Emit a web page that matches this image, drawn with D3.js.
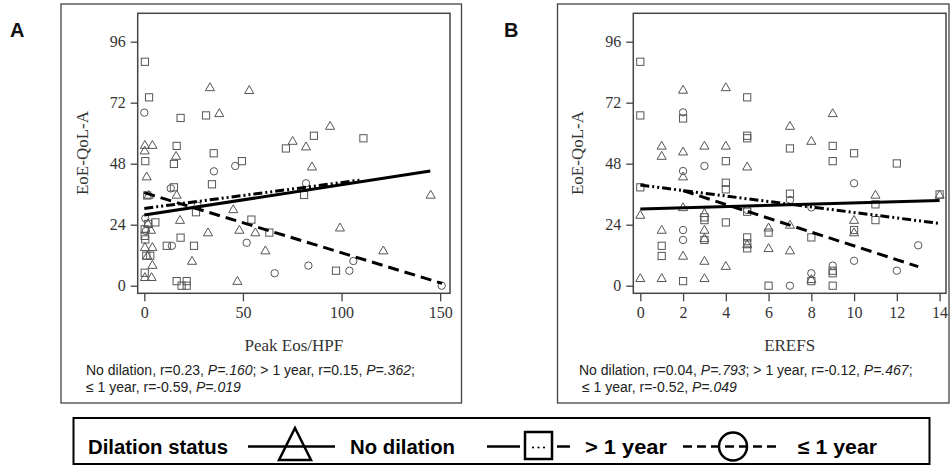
<!DOCTYPE html>
<html><head><meta charset="utf-8">
<script src="https://cdn.jsdelivr.net/npm/d3@7/dist/d3.min.js"></script>
<style>body{margin:0;background:#fff}svg{display:block}</style>
</head><body><svg id="c" width="950" height="468"></svg>
<script>
// ---------- DATA ----------
const yTicks = [0, 24, 48, 72, 96];
const xTicksA = [0, 50, 100, 150];
const xTicksB = [0, 2, 4, 6, 8, 10, 12, 14];

// Panel A: Peak Eos/HPF vs EoE-QoL-A
const triA = [[33.3,78],[53.2,76.9],[38,67.8],[94.2,62.8],[75.2,56.9],[82,54.7],[85,46.8],[145.2,35.7],[45.1,30],[99.2,22.8],[48.2,21.9],[56.3,20.9],[32.3,20.9],[61.4,13.8],[121.2,13.8],[24.2,9.7],[47.2,1.8],[16.1,51],[16.4,35.7],[18.1,25.8],[0.3,55.3],[4.1,55.3],[0.2,53.1],[1.2,42.9],[2.2,35.7],[3.4,21.9],[0.3,15.1],[4.1,15.1],[1.5,11.7],[4.1,8.1],[0.3,3.3],[3.7,3.3],[1.8,24.5]];
const sqA = [[0.3,88.1],[2.4,74.1],[18.4,66],[31.3,67],[86,59],[111.1,58],[71.8,54],[16.4,55],[35.2,52.1],[0.5,49],[15,47.9],[49.5,49],[34.3,39.9],[15,38.7],[81,35.7],[1.5,35.5],[26.2,28.9],[54.3,26],[63.4,20.9],[5.6,24.9],[11.4,15.7],[25.2,15.7],[18.4,18.9],[97.2,5.9],[16.4,1.8],[21.5,1.8],[18.9,0],[21.5,0],[2,24.3],[0.2,22.2],[0.2,19.6],[0.5,18.2],[1,11.8],[3,11.8],[0.2,5.1]];
const cirA = [[0,68.1],[46.1,47.1],[35.3,45],[82,40.3],[51.9,16.9],[83.2,7.9],[66.1,4.9],[104,5.9],[106,9.7],[150.8,0],[13.4,38.3],[0.5,26.5],[14,15.7],[0.8,21.5],[27,31.5]];

// Panel B: EREFS vs EoE-QoL-A
const triB = [[0,27.8],[0,2.9],[1,55],[1,51],[1,21.9],[1,2.9],[2,77],[2,52.7],[2,42.9],[2,30.8],[2,11.7],[3,55],[3,21.9],[3,18.6],[3,28.5],[3,9.7],[3,2.9],[4,78],[4,55],[4,7.7],[5,46.8],[5,16.2],[6,22.8],[6,14.7],[7,62.8],[7,23.9],[7,13.8],[8,56.9],[8,2.5],[9,67.8],[10,25.8],[10,20.9],[11,35.7],[14,35.7]];
const sqB = [[0,88.1],[0,67],[0,38.7],[1,15.7],[1,11.7],[2,65.8],[2,1.8],[3,26.9],[3,25.8],[3,18],[4,49],[4,40.5],[4,37.9],[4,24.9],[5,74.1],[5,59],[5,58],[5,19],[5,16.7],[5,14.7],[5,29.1],[6,20.9],[6,0],[7,54],[7,36.2],[8,19],[8,1.8],[9,55],[9,49],[9,5.9],[9,4.9],[9,0],[10,52.1],[10,21.9],[11,32],[11,25.8],[12,48.1],[14,35.9]];
const cirB = [[2,68.2],[2,45.1],[2,21.9],[2,18],[3,47.1],[5,29.8],[7,0],[7,33.7],[8,30.8],[8,4.9],[9,7.9],[10,40.3],[10,9.8],[12,5.9],[13,15.9]];

// Fitted lines (end points)
const fitA_noDil = [[0,27.8],[145,45.1]];
const fitA_gt1   = [[0,30.4],[110,41.6]];
const fitA_le1   = [[0,36.6],[151,0.9]];
const fitB_noDil = [[0,30.2],[14,33.5]];
const fitB_gt1   = [[0,39.6],[14,24.5]];
const fitB_le1   = [[2,37.4],[13,7.5]];

const noteA = [["No dilation, r=0.23, ",0],["P=.160",1],["; > 1 year, r=0.15, ",0],["P=.362",1],[";",0]];
const noteA2 = [["\u2264 1 year, r=-0.59, ",0],["P=.019",1]];
const noteB = [["No dilation, r=0.04, ",0],["P=.793",1],["; > 1 year, r=-0.12, ",0],["P=.467",1],[";",0]];
const noteB2 = [["\u2264 1 year, r=-0.52, ",0],["P=.049",1]];

// ---------- DRAW ----------
const svg = d3.select("#c");
const serif = "'Liberation Serif','Times New Roman',serif";
const sans = "'Liberation Sans',Arial,sans-serif";
const markStroke = "#555";

function panel(o) {
  const g = svg.append("g");
  g.append("rect").attr("x", o.outer[0]).attr("y", o.outer[1])
    .attr("width", o.outer[2]-o.outer[0]).attr("height", o.outer[3]-o.outer[1])
    .attr("fill","none").attr("stroke","#444").attr("stroke-width",1.3);
  g.append("text").attr("x", o.labelX).attr("y", 37).text(o.label)
    .attr("font-family", sans).attr("font-weight","bold").attr("font-size",20).attr("fill","#111");

  const x = d3.scaleLinear().domain(o.xDom).range([o.plot[0], o.plot[2]]);
  const y = d3.scaleLinear().domain([-2.99, 107.17]).range([o.plot[3], o.plot[1]]);

  const ax = g.append("g").attr("transform", `translate(0,${o.plot[3]})`)
    .call(d3.axisBottom(x).tickValues(o.xTicks).tickSize(8).tickPadding(5).tickFormat(d3.format("d")));
  const ay = g.append("g").attr("transform", `translate(${o.plot[0]},0)`)
    .call(d3.axisLeft(y).tickValues(yTicks).tickSize(7).tickPadding(5).tickFormat(d3.format("d")));
  [ax, ay].forEach(a => {
    a.select(".domain").remove();
    a.selectAll("line").attr("stroke","#444").attr("stroke-width",1.3);
    a.selectAll("text").attr("font-family", serif).attr("font-size",16).attr("fill","#333");
  });
  g.append("rect").attr("x", o.plot[0]).attr("y", o.plot[1])
    .attr("width", o.plot[2]-o.plot[0]).attr("height", o.plot[3]-o.plot[1])
    .attr("fill","none").attr("stroke","#444").attr("stroke-width",1.5);

  // axis titles
  g.append("text").attr("x", (o.plot[0]+o.plot[2])/2).attr("y", 351).attr("text-anchor","middle")
    .attr("font-family", serif).attr("font-size",17).attr("fill","#333").text(o.xTitle);
  g.append("text").attr("transform", `translate(${o.plot[0]-50},153) rotate(-90)`).attr("text-anchor","middle")
    .attr("font-family", serif).attr("font-size",17).attr("fill","#333").text("EoE-QoL-A");

  // markers
  const pts = g.append("g").attr("fill","none").attr("stroke", markStroke).attr("stroke-width",1);
  const triPath = d3.symbol().type(d3.symbolTriangle).size(36);
  pts.selectAll(".t").data(o.tri).join("path")
    .attr("d", triPath).attr("transform", d => `translate(${x(d[0])},${y(d[1])+0.6})`);
  pts.selectAll(".s").data(o.sq).join("rect")
    .attr("x", d => x(d[0])-3.6).attr("y", d => y(d[1])-3.6).attr("width",7.2).attr("height",7.2);
  pts.selectAll(".c").data(o.cir).join("circle")
    .attr("cx", d => x(d[0])).attr("cy", d => y(d[1])).attr("r",3.7);

  // fitted lines
  const line = d3.line().x(d => x(d[0])).y(d => y(d[1]));
  g.append("path").attr("d", line(o.fitNo)).attr("fill","none").attr("stroke","#000").attr("stroke-width",3);
  g.append("path").attr("d", line(o.fitGt)).attr("fill","none").attr("stroke","#000").attr("stroke-width",3)
    .attr("stroke-dasharray","9,3,2,3,2,3");
  g.append("path").attr("d", line(o.fitLe)).attr("fill","none").attr("stroke","#000").attr("stroke-width",3)
    .attr("stroke-dasharray","11,6");

  // notes
  [[o.note1, 375],[o.note2, 392]].forEach(([parts, yy], i) => {
    const t = g.append("text").attr("x", o.noteX + (i ? o.note2dx : 0)).attr("y", yy)
      .attr("font-family", sans).attr("font-size",14).attr("fill","#222");
    parts.forEach(p => t.append("tspan").text(p[0]).attr("font-style", p[1] ? "italic" : "normal"));
  });
}

panel({outer:[61,4,461.5,403], plot:[137.7,13.3,450,293.3], label:"A", labelX:10,
  xDom:[-3.35,155.0], xTicks:xTicksA, xTitle:"Peak Eos/HPF",
  tri:triA, sq:sqA, cir:cirA, fitNo:fitA_noDil, fitGt:fitA_gt1, fitLe:fitA_le1,
  note1:noteA, note2:noteA2, noteX:86, note2dx:0});
panel({outer:[557.5,4,949,403], plot:[633.3,13.3,946,293.3], label:"B", labelX:504,
  xDom:[-0.328,14.30], xTicks:xTicksB, xTitle:"EREFS",
  tri:triB, sq:sqB, cir:cirB, fitNo:fitB_noDil, fitGt:fitB_gt1, fitLe:fitB_le1,
  note1:noteB, note2:noteB2, noteX:579, note2dx:3});

// ---------- LEGEND ----------
const lg = svg.append("g");
lg.append("rect").attr("x",73.5).attr("y",418).attr("width",856).attr("height",46)
  .attr("fill","none").attr("stroke","#000").attr("stroke-width",2);
const ly = 446.5;
const lt = (x, s, w) => lg.append("text").attr("x", x).attr("y", ly+7).text(s)
  .attr("textLength", w).attr("lengthAdjust","spacingAndGlyphs")
  .attr("font-family", sans).attr("font-weight","bold").attr("font-size",20).attr("fill","#000");
lt(88, "Dilation status", 140);
lg.append("line").attr("x1",248).attr("x2",335).attr("y1",ly).attr("y2",ly).attr("stroke","#000").attr("stroke-width",2.5);
lg.append("path").attr("d", `M295,428 L311,460 L279,460 Z`).attr("fill","none").attr("stroke","#000").attr("stroke-width",2.5);
lt(350, "No dilation", 105);
lg.append("line").attr("x1",487).attr("x2",520).attr("y1",ly).attr("y2",ly).attr("stroke","#000").attr("stroke-width",2.5);
lg.append("rect").attr("x",525).attr("y",432).attr("width",27).attr("height",27).attr("fill","none").attr("stroke","#000").attr("stroke-width",2.5);
[533,538.5,544].forEach(cx => lg.append("circle").attr("cx",cx).attr("cy",ly+1).attr("r",1.1).attr("fill","#000"));
lg.append("line").attr("x1",557).attr("x2",570).attr("y1",ly).attr("y2",ly).attr("stroke","#000").attr("stroke-width",2.5);
lt(585, "> 1 year", 82);
lg.append("line").attr("x1",683).attr("x2",781).attr("y1",ly).attr("y2",ly).attr("stroke","#000").attr("stroke-width",2.5).attr("stroke-dasharray","9,5");
lg.append("circle").attr("cx",733).attr("cy",ly).attr("r",14).attr("fill","none").attr("stroke","#000").attr("stroke-width",2.5);
lt(798, "\u2264 1 year", 79);
</script></body></html>
